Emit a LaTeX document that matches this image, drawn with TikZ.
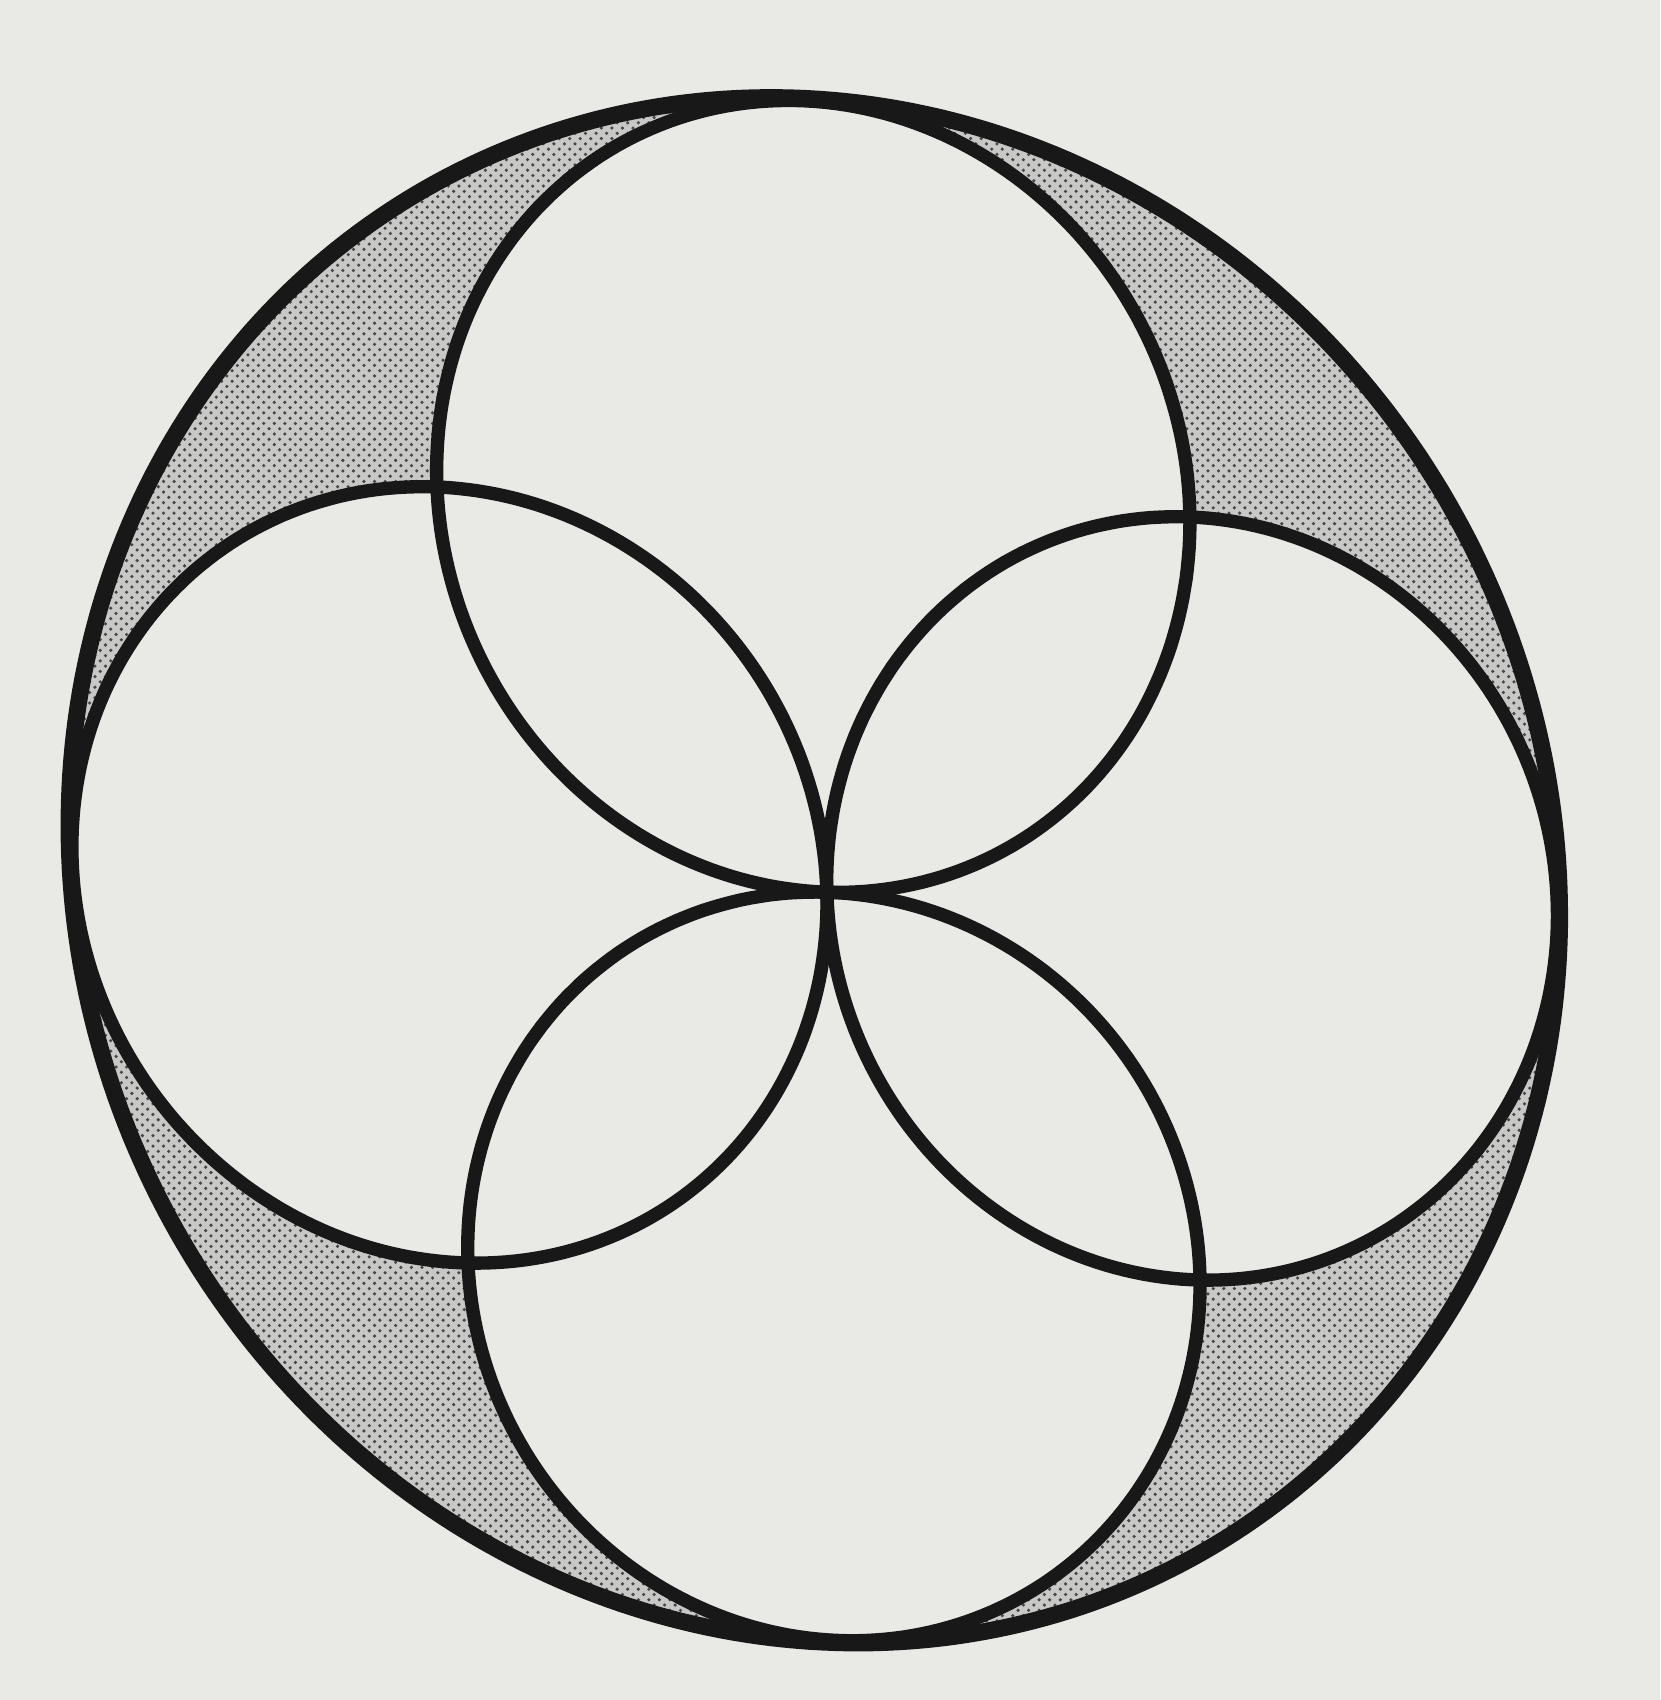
\documentclass[tikz,border=0pt]{standalone}
\usetikzlibrary{patterns}
\definecolor{paper}{RGB}{233,233,230}
\definecolor{shadefill}{RGB}{200,200,198}
\definecolor{dotink}{RGB}{70,70,70}
\definecolor{ink}{RGB}{24,24,24}
\tikzset{
  bigline/.style={draw=ink, line width=4.8pt, line join=round},
  smallline/.style={draw=ink, line width=3.8pt, line join=round},
  declare function={
    hw(\p,\q)=0.008022*\p - 0.01392*\q + 1;
    hu(\p,\q)=(377.79*\p - 21.68*\q + 826.87)/hw(\p,\q);
    hv(\p,\q)=(18.82*\p - 397.07*\q + 892.20)/hw(\p,\q);
  }
}
\begin{document}
\begin{tikzpicture}[x=0.01cm,y=-0.01cm]
\fill[paper] (0,0) rectangle (1660,1700);
\useasboundingbox (0,0) rectangle (1660,1700);
% shaded big disc
\fill[shadefill] plot[domain=0:360,samples=361,variable=\t]
  ({hu(2.006*cos(\t),2.006*sin(\t))},{hv(2.006*cos(\t),2.006*sin(\t))}) -- cycle;
\fill[pattern=crosshatch dots, pattern color=dotink] plot[domain=0:360,samples=361,variable=\t]
  ({hu(2.006*cos(\t),2.006*sin(\t))},{hv(2.006*cos(\t),2.006*sin(\t))}) -- cycle;
% white small discs
\foreach \cx/\cy in {0/1,1/0,0/-1,-1/0}{
  \fill[paper] plot[domain=0:360,samples=241,variable=\t]
    ({hu(\cx+cos(\t),\cy+sin(\t))},{hv(\cx+cos(\t),\cy+sin(\t))}) -- cycle;
}
% outlines
\draw[bigline] plot[domain=0:360,samples=361,variable=\t]
  ({hu(2.006*cos(\t),2.006*sin(\t))},{hv(2.006*cos(\t),2.006*sin(\t))}) -- cycle;
\foreach \cx/\cy in {0/1,1/0,0/-1,-1/0}{
  \draw[smallline] plot[domain=0:360,samples=241,variable=\t]
    ({hu(\cx+cos(\t),\cy+sin(\t))},{hv(\cx+cos(\t),\cy+sin(\t))}) -- cycle;
}
\end{tikzpicture}
\end{document}
